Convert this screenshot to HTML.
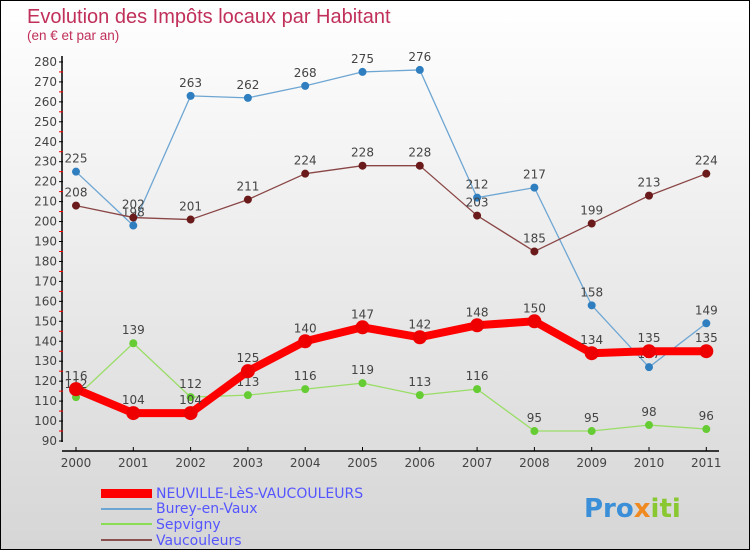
<!DOCTYPE html>
<html><head><meta charset="utf-8"><style>
body{margin:0}
#c{position:relative;width:748px;height:548px;border:1px solid #000;background:linear-gradient(#fff,#d6d6d6);font-family:"DejaVu Sans","Liberation Sans",sans-serif;overflow:hidden}
svg text{font-family:"DejaVu Sans","Liberation Sans",sans-serif}
</style></head><body>
<div id="c">
<svg id="s" width="748" height="548">
<text x="26" y="22" font-size="20" fill="#c0305a" style="font-family:'Liberation Sans',sans-serif">Evolution des Impôts locaux par Habitant</text>
<text x="26" y="39" font-size="13.5" fill="#c0305a" style="font-family:'Liberation Sans',sans-serif">(en € et par an)</text>
<g id="ax"></g><g id="series"></g>
<g>
<rect x="100" y="488" width="51" height="9" fill="#f00"/>
<text x="155" y="497" font-size="14" fill="#5555ff">NEUVILLE-LèS-VAUCOULEURS</text>
<rect x="100" y="507" width="51" height="2" fill="#6ea6d3"/>
<text x="155" y="512" font-size="14" fill="#5555ff">Burey-en-Vaux</text>
<rect x="100" y="522" width="51" height="2" fill="#88dd55"/>
<text x="155" y="528" font-size="14" fill="#5555ff">Sepvigny</text>
<rect x="100" y="538" width="51" height="2" fill="#8a5050"/>
<text x="155" y="544" font-size="14" fill="#5555ff">Vaucouleurs</text>
</g>
<text x="583" y="516" font-size="26" font-weight="bold"><tspan fill="#3a8fd8">Pro</tspan><tspan fill="#f08a20">x</tspan><tspan fill="#8ac832">iti</tspan></text>
</svg></div>
<script>
const years=[2000,2001,2002,2003,2004,2005,2006,2007,2008,2009,2010,2011];
const yTicks=[90,100,110,120,130,140,150,160,170,180,190,200,210,220,230,240,250,260,270,280];
const neuville=[116,104,104,125,140,147,142,148,150,134,135,135];
const burey=[225,198,263,262,268,275,276,212,217,158,127,149];
const sepvigny=[112,139,112,113,116,119,113,116,95,95,98,96];
const vaucouleurs=[208,202,201,211,224,228,228,203,185,199,213,224];
const NS="http://www.w3.org/2000/svg";
const x=i=>75+i*57.3, y=v=>440-(v-90)*1.995;
function mk(t,a,p){const e=document.createElementNS(NS,t);for(const k in a)e.setAttribute(k,a[k]);(p||document.getElementById('ax')).appendChild(e);return e;}
let e=mk('line',{x1:61,y1:55,x2:61,y2:441,stroke:'#000','stroke-width':1.5});


e=mk('line',{x1:61,y1:450,x2:718,y2:450,stroke:'#000','stroke-width':1.5});


yTicks.forEach(v=>{
 mk('line',{x1:58,y1:y(v),x2:62,y2:y(v),stroke:'#000'});
 if(v<280)mk('line',{x1:58,y1:y(v+5),x2:62,y2:y(v+5),stroke:'#f00'});
 const t=mk('text',{x:56,y:y(v)+4,'font-size':12,'text-anchor':'end',fill:'#444'});t.textContent=v;
 
 
});
years.forEach((yr,i)=>{
 mk('line',{x1:x(i),y1:446,x2:x(i),y2:450,stroke:'#000'});
 const t=mk('text',{x:x(i),y:466,'font-size':12,'text-anchor':'middle',fill:'#444'});t.textContent=yr;
 
 
});
const sg=document.getElementById('series');
function draw(data,col,dot,w,r,name){
 const g=mk('g',{},sg);
 
 
 mk('polyline',{points:data.map((v,i)=>x(i)+','+y(v)).join(' '),fill:'none',stroke:col,'stroke-width':w,'stroke-linejoin':'round'},g);
 data.forEach((v,i)=>{
  const c=mk('circle',{cx:x(i),cy:y(v),r:r,fill:dot},g);
  
  
  const t=mk('text',{x:x(i),y:y(v)-9,'font-size':12,'text-anchor':'middle',fill:'#444'},g);t.textContent=v;
  
  
 });
}
draw(burey,'#6ea6d3','#2f7fc0',1.3,4,'burey');
draw(vaucouleurs,'#8a4545','#6a1a1a',1.3,4,'vaucouleurs');
draw(sepvigny,'#99dd66','#66cc33',1.3,4,'sepvigny');
draw(neuville,'#ff0000','#ee0000',8,7,'neuville');
</script>
</body></html>
